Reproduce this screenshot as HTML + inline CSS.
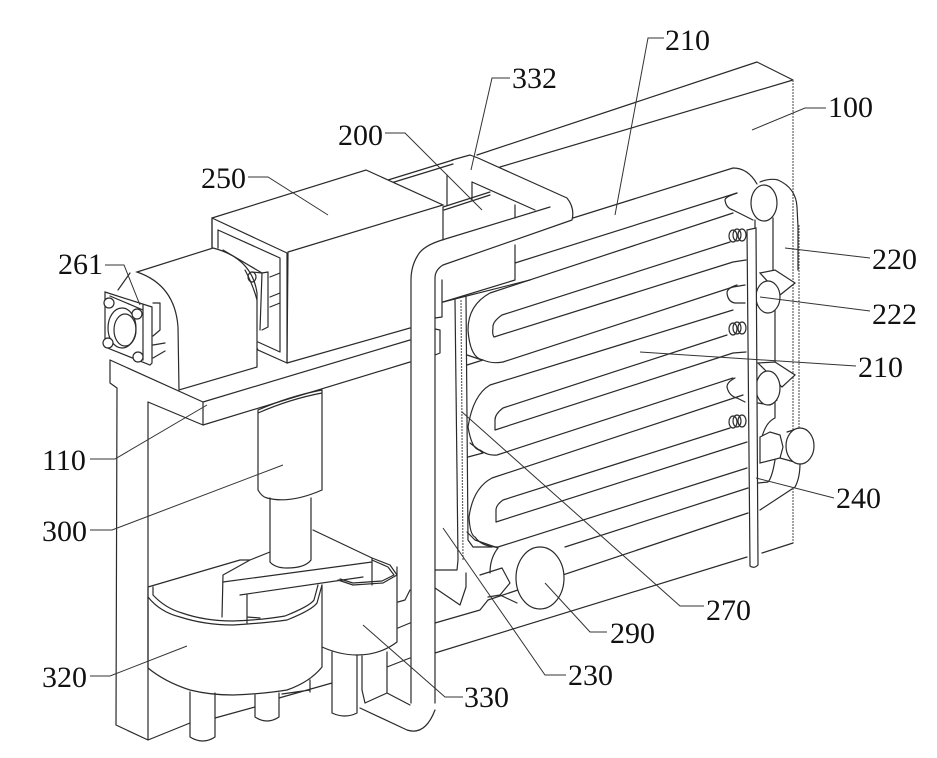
<!DOCTYPE html>
<html><head><meta charset="utf-8"><style>
html,body{margin:0;padding:0;background:#fff;width:937px;height:758px;overflow:hidden}
svg{display:block}
.l{fill:none;stroke:#2a2a2a;stroke-width:1.2;stroke-linecap:round;stroke-linejoin:round}
.d{fill:none;stroke:#666;stroke-width:1.2;stroke-dasharray:2 1}
.w{fill:#fff;stroke:#2a2a2a;stroke-width:1.2}
.t{font-family:"Liberation Serif",serif;font-size:30px;fill:#111}
</style></head><body>
<svg width="937" height="758" viewBox="0 0 937 758" xmlns="http://www.w3.org/2000/svg">
<!-- back plate -->
<path class="l" d="M477 155L757 62L793 80M500 167L793 80"/>
<path class="l" d="M388 180L453 160M391 183L453 164M443 207L490 192M444 210L490 195"/>
<path class="d" d="M793 80L793 432"/>
<path class="d" d="M799 225L799 428"/>
<!-- serpentine pipes -->
<path class="l" d="M515 263L737 193M573 218L733 168Q748 168 757 184"/>
<path class="l" d="M733 213L490 293Q468 305 468 330Q470 358 483 360Q492 364 503 362L733 287L745 285"/>
<path class="l" d="M730 242L502 315Q492 322 493 328Q492 334 494 337L733 262L746 260"/>
<path class="l" d="M733 310L490 385Q473 395 468 427Q472 450 480 450Q488 456 497 455L733 378"/>
<path class="l" d="M727 335L503 408Q495 414 495 420L495 430L733 353L746 352"/>
<path class="l" d="M743 395L492 478Q473 488 469 517Q470 535 475 537Q482 547 498 547L747 468"/>
<path class="l" d="M730 428L503 500Q496 505 496 510L496 522L747 442"/>
<path class="l" d="M565 547L748 488M488 600L748 513M435 653L747 557M762 553L793 543"/>
<!-- couplings -->
<path class="l" d="M737 193Q725 197 725 200Q726 208 733 210L753 220M737 285Q727 288 727 293Q728 302 735 303L745 303M735 378Q727 382 727 387Q729 396 737 398L745 402"/>
<g class="l"><ellipse cx="733" cy="236" rx="4" ry="6"/><ellipse cx="737" cy="235" rx="4" ry="6"/><ellipse cx="742" cy="235" rx="4" ry="6"/><ellipse cx="733" cy="329" rx="4" ry="6"/><ellipse cx="737" cy="328" rx="4" ry="6"/><ellipse cx="742" cy="328" rx="4" ry="6"/><ellipse cx="733" cy="422" rx="4" ry="6"/><ellipse cx="737" cy="421" rx="4" ry="6"/><ellipse cx="742" cy="421" rx="4" ry="6"/></g>
<!-- right side pipe -->
<path class="l" d="M760 182Q770 178 778 180Q796 188 797 207L798 227L798 270M755 220L755 268M773 218L773 270M775 310L775 362M775 402L775 418Q766 422 762 437M758 403L770 405L777 400"/>
<ellipse class="w" cx="764" cy="203" rx="13" ry="18"/>
<path class="w" d="M760 273L775 270L795 283L780 295Z"/>
<ellipse class="w" cx="768" cy="297" rx="12" ry="16"/>
<path class="w" d="M758 363L775 362L795 375L782 387Z"/>
<ellipse class="w" cx="768" cy="388" rx="12" ry="17"/>
<path class="w" d="M760 437L770 432L780 435L783 447L780 458L760 463Z"/>
<path class="l" d="M787 432L800 428M780 458L798 463M775 460Q772 478 768 482L758 483M800 463Q800 478 795 487L760 510"/>
<path class="d" d="M793 488L793 543"/>
<ellipse class="w" cx="800" cy="446" rx="14" ry="18"/>
<!-- vertical bar -->
<path class="w" d="M747 230L756 228L758 565Q754 569 750 566Z"/>
<!-- upper connecting pipe -->
<path class="l" d="M452 160L470 155L478 158L567 198Q575 208 572 220L443 265Q435 270 435 278L435 703"/>
<path class="l" d="M442 240L550 207M442 240Q423 246 418 255Q411 266 411 280L411 703"/>
<path class="l" d="M472 182L535 210M472 182L472 200M447 175L447 205M443 207L443 240M515 205L515 218M515 245L515 280L443 302M442 280L442 317L435 318"/>
<path class="l" d="M435 329L440 330L440 353L435 355"/>
<path class="l" d="M443 302L530 280"/>
<!-- 270 rails -->
<path class="l" d="M455 300L458 560L457 570L435 570M466 297L468 540L473 547L492 547M467 355L482 360M467 365L483 360M468 457L483 453M470 443L483 453M435 588L460 605L466 587L466 573"/>
<path class="d" d="M461 300L463 560"/>
<!-- box 250 -->
<path class="w" d="M212 218L366 170L443 205L288 252L287 363L258 350L212 260Z"/>
<path class="l" d="M212 218L287 253L287 363L410 328M218 230L280 258L280 352L258 342M212 218L212 248M218 230L218 248M223 250L262 273L260 330M262 273L268 272L268 327L262 330M270 297L280 293M270 307L280 303M270 277L280 273"/>
<!-- motor -->
<path class="w" d="M137 272L213 248Q252 258 257 293L257 367L179 390L178 327Q175 285 137 272Z"/>
<path class="l" d="M245 270Q253 285 257 300M252 272L262 273"/>
<ellipse class="l" cx="252" cy="277" rx="4" ry="5"/>
<path class="l" d="M118 290L130 273M153 303L160 303L160 330L153 336M153 345L165 343M153 358L165 351"/>
<path class="w" d="M105 292L152 307L152 363L150 365L105 347Z"/>
<path class="l" d="M143 305L143 360M110 296L143 310"/>
<ellipse class="l" cx="122" cy="328" rx="14" ry="20"/>
<ellipse class="l" cx="125" cy="330" rx="11" ry="16"/>
<g class="w"><circle cx="109" cy="303" r="5"/><circle cx="137" cy="314" r="5"/><circle cx="108" cy="343" r="5"/><circle cx="138" cy="357" r="5"/></g>
<!-- support arm -->
<path class="l" d="M110 360L203 402L410 340M110 360L110 383L117 388L116 725L148 740M148 402L203 425L410 362M203 402L203 425M148 402L148 740L190 723M215 718L255 707M279 698L332 683M310 680L310 692M282 694L310 690"/>
<!-- cylinder 300 -->
<path class="l" d="M258 410L258 490Q262 497 267 498Q290 504 322 490L322 390M258 410Q290 396 322 390M258 413Q290 399 322 393"/>
<path class="l" d="M270 498L270 562Q275 568 287 568Q305 568 311 560L311 498"/>
<!-- tank 320 -->
<path class="l" d="M148 588L148 668Q165 682 190 690Q210 695 233 695Q262 694 287 690Q310 682 322 667L322 585"/>
<path class="l" d="M148 597Q160 612 180 617Q205 625 233 625Q265 623 287 620Q312 610 317 603L322 585M153 587L153 595Q165 608 182 613Q205 621 233 621Q262 620 285 616Q310 606 314 600L318 585"/>
<path class="l" d="M148 587L240 560L250 560L223 575L222 617M250 560L270 552M223 582L372 562M240 595L363 577M247 595L247 623M247 617L260 618M313 530L372 558L372 585"/>
<!-- 330 -->
<path class="l" d="M372 558L390 565L397 575L383 583L353 585L338 580M372 560L388 567L394 575L382 581L353 583L340 579"/>
<path class="l" d="M322 647Q340 655 357 655Q380 655 397 642L397 567"/>
<path class="l" d="M398 602L405 600L410 590M398 628L410 623M387 667L410 658"/>
<!-- lower pipes -->
<path class="l" d="M190 692L190 737Q203 745 215 737L215 693M255 695L255 717Q267 725 279 717L279 693M332 652L332 713Q345 719 357 713L357 655M362 656L362 690L365 703L387 693L387 652M387 693L410 705"/>
<path class="l" d="M360 708L407 730Q425 736 435 710"/>
<!-- left plate lines -->
<path class="l" d="M435 623L480 610L488 600"/>
<!-- bottom connection 230/290 -->
<path class="l" d="M467 532L475 540L498 548Q490 558 490 573M480 575L502 568L510 583L500 595L488 597M500 595L517 603"/>
<ellipse class="w" cx="540" cy="578" rx="24" ry="31"/>
<!-- leaders -->
<g fill="none" stroke="#333" stroke-width="1">
<path d="M664 38L648 38L615 215M510 78L492 78L471 170M826 108L805 108L752 130M385 133L405 133L482 210M248 177L268 177L328 215M105 265L124 265L140 305M870 258L785 248M870 311L760 297M856 366L640 352M90 459L115 459L207 405M90 530L112 530L283 465M834 498L756 478M704 606L680 606L462 412M607 632L590 632L545 583M566 675L545 675L443 528M90 676L110 676L187 646M463 697L445 697L363 625"/>
</g>
<!-- labels -->
<g class="t">
<text x="665" y="50">210</text>
<text x="512" y="88">332</text>
<text x="828" y="117">100</text>
<text x="338" y="145">200</text>
<text x="201" y="188">250</text>
<text x="58" y="274">261</text>
<text x="872" y="269">220</text>
<text x="872" y="324">222</text>
<text x="858" y="377">210</text>
<text x="42" y="470">110</text>
<text x="42" y="541">300</text>
<text x="836" y="508">240</text>
<text x="706" y="620">270</text>
<text x="610" y="643">290</text>
<text x="568" y="685">230</text>
<text x="42" y="687">320</text>
<text x="464" y="707">330</text>
</g>
</svg>
</body></html>
